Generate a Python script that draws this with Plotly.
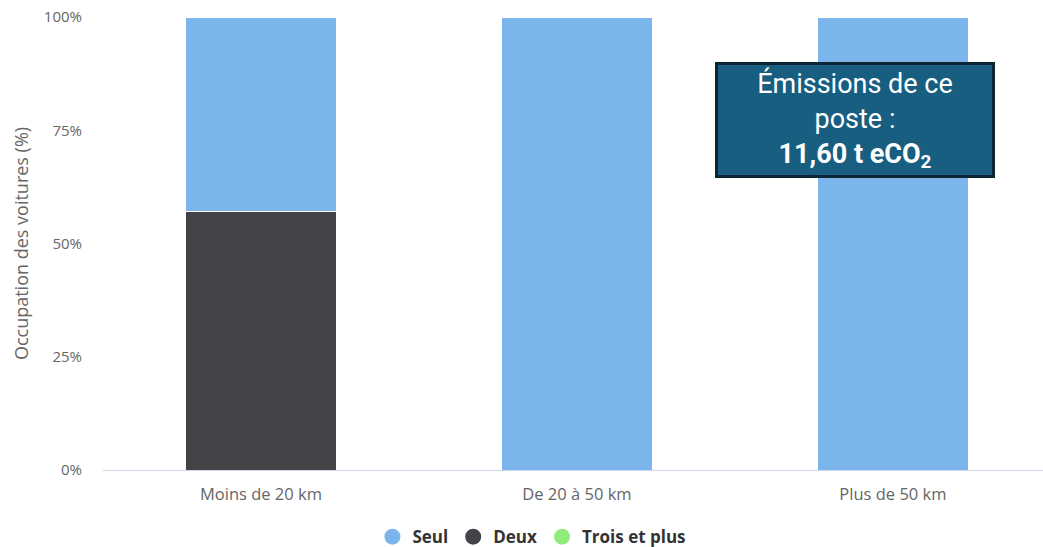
import plotly.graph_objects as go

# Car occupancy by trip distance (share of trips, %)
categories = ["Moins de 20 km", "De 20 à 50 km", "Plus de 50 km"]
seul = [42.86, 100, 100]
deux = [57.14, 0, 0]
trois_et_plus = [0, 0, 0]
y_ticks = [0, 25, 50, 75, 100]
y_tick_labels = ["0%", "25%", "50%", "75%", "100%"]

series = [("Trois et plus", trois_et_plus), ("Deux", deux), ("Seul", seul)]
colors = {"Seul": "#7cb5ec", "Deux": "#434348", "Trois et plus": "#90ed7d"}

fig = go.Figure()
for name, vals in series:
    fig.add_trace(go.Bar(
        name=name, x=categories, y=vals, legendgroup=name, showlegend=False,
        marker=dict(color=colors[name], line=dict(color="#ffffff", width=1)),
        width=0.48,
    ))

# round legend symbols
for name, _ in reversed(series):
    fig.add_trace(go.Scatter(
        name=name, x=[None], y=[None], mode="markers", legendgroup=name,
        marker=dict(symbol="circle", size=16, color=colors[name]),
    ))

fig.update_layout(
    barmode="stack",
    width=1043, height=547,
    margin=dict(l=103, r=0, t=17, b=77),
    plot_bgcolor="#ffffff", paper_bgcolor="#ffffff",
    font=dict(family="Open Sans", size=15, color="#666666"),
    showlegend=True,
    legend=dict(
        orientation="h",
        xref="container", yref="container",
        x=0.51, xanchor="center", y=0.018, yanchor="middle",
        font=dict(family="Open Sans", size=17, color="#333333", weight="bold"),
        itemsizing="trace", itemwidth=30,
    ),
    xaxis=dict(
        range=[-0.5, 2.475], showgrid=False, showline=True,
        linecolor="#ccd6eb", linewidth=1, ticks="", ticklabelstandoff=9,
        tickfont=dict(size=16.5, color="#666666"),
    ),
    yaxis=dict(
        range=[0, 100], tickvals=y_ticks, ticktext=y_tick_labels,
        showgrid=False, zeroline=False, showline=False,
        ticklabelstandoff=20,
        tickfont=dict(size=15, color="#666666"),
        title=dict(text="Occupation des voitures (%)", standoff=10,
                   font=dict(size=18, color="#666666")),
    ),
    annotations=[dict(
        xref="paper", yref="paper", x=0.8005, y=0.7726,
        xanchor="center", yanchor="middle", showarrow=False,
        text="Émissions de ce<br>poste :<br><b>11,60 t eCO<sub>2</sub></b>",
        font=dict(family="Roboto", size=27, color="#ffffff"),
        align="center",
        bgcolor="#175e80", bordercolor="#0b2535", borderwidth=3,
        width=272, height=108,
    )],
)

fig.write_html("out.html")
